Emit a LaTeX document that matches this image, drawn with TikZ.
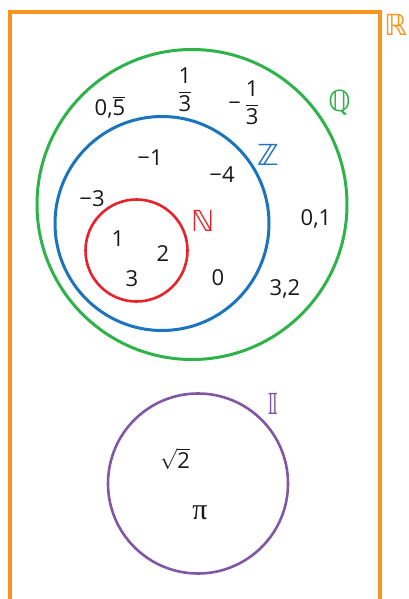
\documentclass[tikz,border=0pt]{standalone}
\usepackage{amsmath}
\usepackage{fontspec}
\setmainfont{Open Sans}
\newfontfamily\dsfont{DejaVu Sans}
\newfontfamily\greekfont{Liberation Serif}
\definecolor{realorange}{HTML}{F7941D}
\definecolor{ratgreen}{HTML}{2DB34A}
\definecolor{intblue}{HTML}{1C75BC}
\definecolor{natred}{HTML}{E8222B}
\definecolor{irrpurple}{HTML}{7F57A5}
\definecolor{numgray}{HTML}{1A1718}

\begin{document}
\begin{tikzpicture}[
        x=1pt, y=-1pt,
        every node/.style={inner sep=0pt, text=numgray, font=\fontsize{22}{24}\selectfont},
        num/.style={anchor=base},
        setlabel/.style={font=\dsfont\fontsize{29}{30}\selectfont},
        ring/.style={line width=3pt}
    ]
    \useasboundingbox (0,0) rectangle (408,599);

    % real numbers
    \draw[realorange, line width=4pt] (10,599) -- (10,12) -- (380,12) -- (380,599);
    \node[setlabel, text=realorange] (R) at (396,25) {ℝ};

    % rational numbers
    \coordinate (Qc) at (192,204.5);
    \draw[ring, ratgreen] (Qc) circle[radius=155pt];
    \node[setlabel, text=ratgreen] (Q) at (340,103) {ℚ};

    % integers
    \coordinate (Zc) at (162,223.5);
    \draw[ring, intblue] (Zc) circle[radius=107pt];
    \node[setlabel, text=intblue] (Z) at (268,155) {ℤ};

    % natural numbers
    \coordinate (Nc) at (136.5,250.5);
    \draw[natred, line width=2.6pt] (Nc) circle[radius=51pt];
    \node[setlabel, text=natred] (N) at (203,221) {ℕ};

    % irrational numbers
    \coordinate (Ic) at (198,483.5);
    \draw[irrpurple, line width=2.6pt] (Ic) circle[radius=90pt];
    \node[setlabel, text=irrpurple] (I) at (273,404) {𝕀};

    % elements
    \node[num] (n05) at (110,116) {0,$\overline{\mbox{5}}$};
    \node (n13) at (185,90) {$\dfrac{\mbox{1}}{\mbox{3}}$};
    \node (nm13) at (244,102.5) {−\,$\dfrac{\mbox{1}}{\mbox{3}}$};
    \node[num] (nm1) at (150,165) {−1};
    \node[num] (nm4) at (222,182) {−4};
    \node[num] (nm3) at (92,206) {−3};
    \node[num] (n1) at (118,246) {1};
    \node[num] (n2) at (163,261) {2};
    \node[num] (n3) at (132,286) {3};
    \node[num] (n0) at (218,285) {0};
    \node[num] (n01) at (316,225) {0,1};
    \node[num] (n32) at (285,295) {3,2};
    \node (sq2) at (175,459) {$\sqrt{\mbox{2}}$};
    \node[num] (pi) at (200,519) {\greekfont\fontsize{30}{30}\selectfont π};
\end{tikzpicture}
\end{document}
